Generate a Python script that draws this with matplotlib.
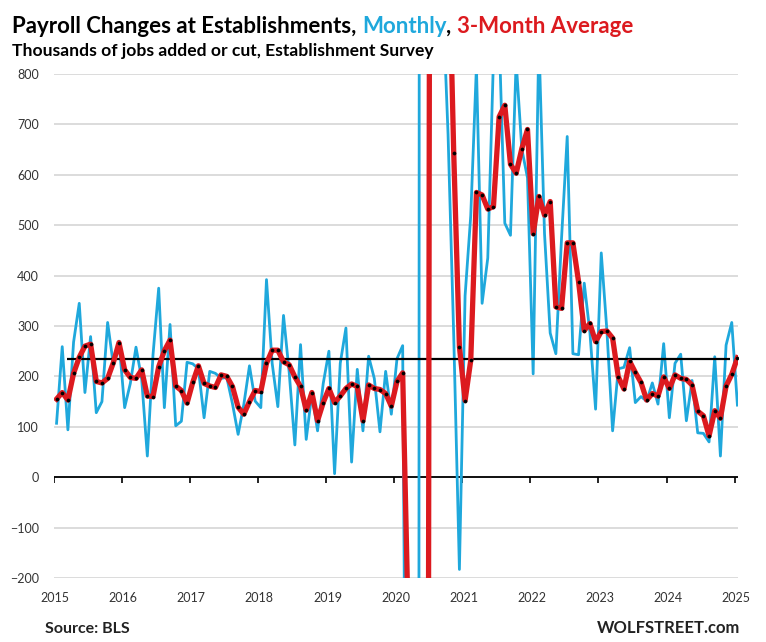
import matplotlib
matplotlib.use('Agg')
import matplotlib.pyplot as plt
import numpy as np

plt.rcParams['font.family'] = ['Lato', 'DejaVu Sans']

# ---------------- data (thousands of jobs) ----------------
years = [str(y) for y in range(2015, 2026)]
y_ticks = [-200, -100, 0, 100, 200, 300, 400, 500, 600, 700, 800]

# monthly change, Jan 2015 .. Jan 2025
monthly = [
    107, 259, 94, 268, 345, 168, 279, 128, 150, 307, 224, 270,        # 2015
    138, 186, 258, 195, 42, 243, 375, 138, 303, 102, 111, 228,        # 2016
    225, 215, 118, 210, 206, 196, 198, 146, 85, 144, 221, 151,        # 2017
    138, 392, 226, 140, 321, 208, 64, 263, 75, 166, 92, 186,          # 2018
    250, 7, 226, 296, 30, 214, 92, 240, 196, 90, 210, 125,            # 2019
    235, 261, -1400, -20470, 2800, 4600, 1600, 1700, 970, 680, 280, -183,  # 2020
    360, 519, 815, 345, 435, 830, 880, 504, 480, 825, 651, 594,       # 2021
    205, 872, 483, 286, 245, 474, 676, 245, 243, 385, 287, 135,       # 2022
    445, 290, 92, 215, 218, 257, 148, 160, 151, 187, 145, 265,        # 2023
    118, 226, 244, 112, 192, 88, 87, 70, 239, 42, 262, 307,           # 2024
    143,                                                              # 2025
]

# 3-month average, Jan 2015 .. Jan 2025
avg3 = [
    155, 168, 153, 206, 238, 260, 264, 190, 187, 196, 227, 267,
    213, 198, 196, 213, 161, 160, 219, 251, 272, 181, 172, 147,
    188, 221, 186, 181, 178, 203, 200, 180, 139, 125, 150, 172,
    170, 226, 252, 252, 229, 223, 199, 180, 133, 168, 112, 148,
    176, 148, 161, 176, 185, 180, 112, 183, 176, 174, 166, 141,
    190, 207, -301, -7203, -6357, -4357, 3000, 2633, 1423, 1117, 643, 259,
    152, 232, 565, 560, 532, 537, 715, 738, 621, 603, 652, 690,
    483, 557, 520, 547, 338, 335, 465, 465, 388, 291, 305, 269,
    289, 290, 276, 199, 175, 230, 208, 188, 153, 166, 161, 199,
    176, 203, 196, 194, 183, 131, 122, 82, 132, 117, 181, 204,
    237,
]

ref_level = 235   # horizontal reference line

# ---------------- styling ----------------
BLUE = '#1FA8DC'
RED = '#DC1A1F'
W, H = 766, 642

fig = plt.figure(figsize=(W / 100, H / 100), dpi=100)
ax = fig.add_axes([54 / W, 1 - 578 / H, (738 - 54) / W, (578 - 74) / H])

x = np.arange(len(monthly))
ax.set_xlim(-0.45, 120.1)
ax.set_ylim(-200, 800)
for s in ax.spines.values():
    s.set_visible(False)

ax.set_yticks(y_ticks)
ax.yaxis.grid(True, color='#d9d9d9', lw=1.3)
ax.set_axisbelow(True)
ax.tick_params(axis='y', length=0, pad=11, labelsize=9, labelcolor='#333333')

ax.set_xticks([12 * k - 0.25 for k in range(len(years))])
ax.set_xticklabels(years)
ax.tick_params(axis='x', length=0, pad=10, labelsize=9, labelcolor='#333333')

# zero axis with year tick marks
ax.axhline(0, color='black', lw=1.3, zorder=2.5)
ax.vlines([12 * k - 0.5 for k in range(len(years))], -11, 0, color='black', lw=1.2, zorder=2.5)

ax.plot(x, monthly, color=BLUE, lw=2.0, zorder=3)
ax.hlines(ref_level, 1.8, 118.7, color='black', lw=1.6, zorder=3.5)
ax.plot(x, avg3, color=RED, lw=3.8, zorder=4, marker='o', ms=2.2,
        mfc='black', mec='black', mew=0.5)

# ---------------- titles ----------------
fig.canvas.draw()
renderer = fig.canvas.get_renderer()

def put_pieces(x0, y0, pieces, **kw):
    xx = x0
    for txt, col in pieces:
        t = fig.text(xx, y0, txt, color=col, **kw)
        bb = t.get_window_extent(renderer)
        xx += bb.width / fig.bbox.width

put_pieces(12 / W, 1 - 33 / H,
           [("Payroll Changes at Establishments, ", 'black'),
            ("Monthly", BLUE), (", ", 'black'),
            ("3-Month Average", RED)],
           fontsize=16, fontweight='bold', va='baseline')

fig.text(12 / W, 1 - 56 / H, "Thousands of jobs added or cut, Establishment Survey",
         fontsize=12.6, fontweight='bold', va='baseline', color='black')

fig.text(45 / W, 1 - 633 / H, "Source: BLS", fontsize=11.5, fontweight='bold',
         va='baseline', color='#222222')
fig.text(740 / W, 1 - 633 / H, "WOLFSTREET.com", fontsize=12, fontweight='bold',
         va='baseline', ha='right', color='#222222')

fig.savefig('out.png', dpi=100)
